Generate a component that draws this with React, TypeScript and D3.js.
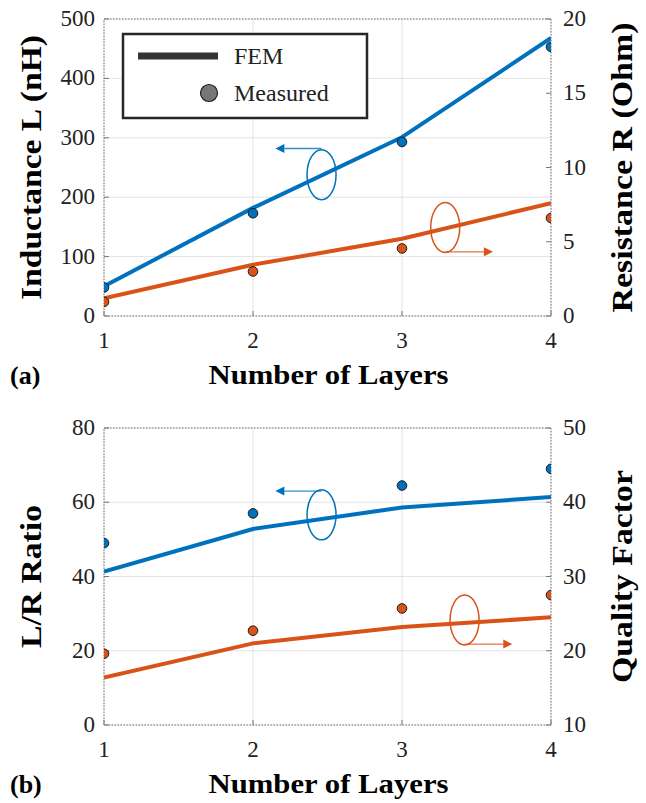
import React from 'react';
import * as d3 from 'd3';

const layers = [1, 2, 3, 4];
const femInductance = [50, 182, 301, 468];
const measInductance = [48, 173, 293, 453];
const femResistance = [1.2, 3.45, 5.2, 7.6];
const measResistance = [0.95, 3.0, 4.55, 6.6];
const femLR = [41.3, 52.8, 58.6, 61.4];
const measLR = [49, 57, 64.5, 69];
const femQ = [16.4, 21.0, 23.2, 24.5];
const measQ = [19.6, 22.7, 25.7, 27.5];

const xTicks = [1, 2, 3, 4];
const topLeftTicks = [0, 100, 200, 300, 400, 500];
const topRightTicks = [0, 5, 10, 15, 20];
const botLeftTicks = [0, 20, 40, 60, 80];
const botRightTicks = [10, 20, 30, 40, 50];

const BLUE = '#0072BD';
const ORANGE = '#D95319';
const FONT = 'Liberation Serif';

type Ann = { cx: number; cy: number; ay: number; ax: number; side: 'L' | 'R'; color: string };

type PanelProps = {
  id: string;
  top: number;
  bottom: number;
  leftDomain: [number, number];
  rightDomain: [number, number];
  leftTicks: number[];
  rightTicks: number[];
  leftFem: number[];
  leftMeas: number[];
  rightFem: number[];
  rightMeas: number[];
  leftTitle: string;
  rightTitle: string;
  leftTitleLen: number;
  rightTitleLen: number;
  letter: string;
  anns: Ann[];
};

const X0 = 104;
const X1 = 551;

function Panel(p: PanelProps) {
  const x = d3.scaleLinear().domain([1, 4]).range([X0, X1]);
  const yL = d3.scaleLinear().domain(p.leftDomain).range([p.bottom, p.top]);
  const yR = d3.scaleLinear().domain(p.rightDomain).range([p.bottom, p.top]);
  const lineL = d3.line<number>().x((_, i) => x(layers[i])).y((d) => yL(d));
  const lineR = d3.line<number>().x((_, i) => x(layers[i])).y((d) => yR(d));
  const midY = (p.top + p.bottom) / 2;
  const midX = (X0 + X1) / 2;
  const clipId = 'clip-' + p.id;
  const tf = { fontFamily: FONT } as React.CSSProperties;
  return (
    <g>
      <defs>
        <clipPath id={clipId}>
          <rect x={X0} y={p.top} width={X1 - X0} height={p.bottom - p.top} />
        </clipPath>
      </defs>
      {p.leftTicks.map((t) => (
        <line key={'gy' + t} x1={X0} x2={X1} y1={yL(t)} y2={yL(t)} stroke="#e3e3e3" strokeWidth={1} />
      ))}
      {xTicks.map((t) => (
        <line key={'gx' + t} x1={x(t)} x2={x(t)} y1={p.top} y2={p.bottom} stroke="#e3e3e3" strokeWidth={1} />
      ))}
      <rect x={X0} y={p.top} width={X1 - X0} height={p.bottom - p.top} fill="none" stroke="#777" strokeWidth={1} strokeDasharray="1.5,1.5" />
      {p.leftTicks.map((t) => (
        <line key={'tl' + t} x1={X0} x2={X0 + 5} y1={yL(t)} y2={yL(t)} stroke="#777" strokeWidth={1} />
      ))}
      {p.rightTicks.map((t) => (
        <line key={'tr' + t} x1={X1} x2={X1 - 5} y1={yR(t)} y2={yR(t)} stroke="#777" strokeWidth={1} />
      ))}
      {xTicks.map((t) => (
        <line key={'tx' + t} x1={x(t)} x2={x(t)} y1={p.bottom} y2={p.bottom - 5} stroke="#777" strokeWidth={1} />
      ))}
      {p.leftTicks.map((t) => (
        <text key={'ll' + t} x={X0 - 9} y={yL(t) + 7} textAnchor="end" style={tf} fontSize={23} fill="#222">
          {t}
        </text>
      ))}
      {p.rightTicks.map((t) => (
        <text key={'rl' + t} x={X1 + 12} y={yR(t) + 7} textAnchor="start" style={tf} fontSize={23} fill="#222">
          {t}
        </text>
      ))}
      {xTicks.map((t) => (
        <text key={'xl' + t} x={x(t)} y={p.bottom + 32} textAnchor="middle" style={tf} fontSize={23} fill="#222">
          {t}
        </text>
      ))}
      <text
        transform={`translate(41,${midY}) rotate(-90)`}
        textAnchor="middle"
        style={tf}
        fontWeight="bold"
        fontSize={30}
        textLength={p.leftTitleLen}
        lengthAdjust="spacingAndGlyphs"
        fill="#000"
      >
        {p.leftTitle}
      </text>
      <text
        transform={`translate(632,${midY}) rotate(-90)`}
        textAnchor="middle"
        style={tf}
        fontWeight="bold"
        fontSize={30}
        textLength={p.rightTitleLen}
        lengthAdjust="spacingAndGlyphs"
        fill="#000"
      >
        {p.rightTitle}
      </text>
      <text x={midX + 1} y={p.bottom + 68} textAnchor="middle" style={tf} fontWeight="bold" fontSize={27} textLength={240} lengthAdjust="spacingAndGlyphs" fill="#000">
        Number of Layers
      </text>
      <text x={10} y={p.bottom + 68} style={tf} fontWeight="bold" fontSize={26} fill="#000">
        {p.letter}
      </text>
      <g clipPath={`url(#${clipId})`}>
        <path d={lineL(p.leftFem) || ''} fill="none" stroke={BLUE} strokeWidth={4} strokeLinejoin="round" />
        <path d={lineR(p.rightFem) || ''} fill="none" stroke={ORANGE} strokeWidth={4} strokeLinejoin="round" />
        {p.leftMeas.map((v, i) => (
          <circle key={'ml' + i} cx={x(layers[i])} cy={yL(v)} r={4.8} fill={BLUE} stroke="#1a1a1a" strokeWidth={1} />
        ))}
        {p.rightMeas.map((v, i) => (
          <circle key={'mr' + i} cx={x(layers[i])} cy={yR(v)} r={4.8} fill={ORANGE} stroke="#1a1a1a" strokeWidth={1} />
        ))}
      </g>
      {p.anns.map((a, i) => {
        const cx = x(a.cx);
        const cy = yL(a.cy);
        const ay = yL(a.ay);
        const ax = x(a.ax);
        const dir = a.side === 'L' ? -1 : 1;
        const tip = ax;
        const base = ax - dir * 9;
        return (
          <g key={'ann' + i}>
            <ellipse cx={cx} cy={cy} rx={14.5} ry={25} fill="none" stroke={a.color} strokeWidth={1.5} />
            <line x1={cx} x2={base} y1={ay} y2={ay} stroke={a.color} strokeWidth={1.3} opacity={0.8} />
            <path d={`M${tip},${ay} L${base},${ay - 4.5} L${base},${ay + 4.5} Z`} fill={a.color} />
          </g>
        );
      })}
    </g>
  );
}

export default function App() {
  const tf = { fontFamily: FONT } as React.CSSProperties;
  return (
    <svg width={646} height={803} style={{ position: 'absolute', left: 0, top: 0, background: '#fff' }}>
      <rect x={0} y={0} width={646} height={803} fill="#fff" />
      <Panel
        id="a"
        top={19}
        bottom={316}
        leftDomain={[0, 500]}
        rightDomain={[0, 20]}
        leftTicks={topLeftTicks}
        rightTicks={topRightTicks}
        leftFem={femInductance}
        leftMeas={measInductance}
        rightFem={femResistance}
        rightMeas={measResistance}
        leftTitle="Inductance L (nH)"
        rightTitle="Resistance R (Ohm)"
        leftTitleLen={265}
        rightTitleLen={290}
        letter="(a)"
        anns={[
          { cx: 2.46, cy: 238, ay: 282, ax: 2.15, side: 'L', color: BLUE },
          { cx: 3.29, cy: 149, ay: 108, ax: 3.61, side: 'R', color: ORANGE },
        ]}
      />
      <Panel
        id="b"
        top={428}
        bottom={725}
        leftDomain={[0, 80]}
        rightDomain={[10, 50]}
        leftTicks={botLeftTicks}
        rightTicks={botRightTicks}
        leftFem={femLR}
        leftMeas={measLR}
        rightFem={femQ}
        rightMeas={measQ}
        leftTitle="L/R Ratio"
        rightTitle="Quality Factor"
        leftTitleLen={143}
        rightTitleLen={213}
        letter="(b)"
        anns={[
          { cx: 2.46, cy: 56.6, ay: 63.0, ax: 2.15, side: 'L', color: BLUE },
          { cx: 3.42, cy: 28.3, ay: 21.8, ax: 3.74, side: 'R', color: ORANGE },
        ]}
      />
      <g>
        <rect x={123} y={34} width={244} height={84} fill="#fff" stroke="#262626" strokeWidth={2.5} />
        <line x1={138} x2={218} y1={56} y2={56} stroke="#333" strokeWidth={7} />
        <text x={234} y={64} style={tf} fontSize={24} fill="#222">FEM</text>
        <circle cx={209} cy={93} r={8.5} fill="#777" stroke="#222" strokeWidth={1.2} />
        <text x={234} y={101} style={tf} fontSize={24} fill="#222">Measured</text>
      </g>
    </svg>
  );
}
